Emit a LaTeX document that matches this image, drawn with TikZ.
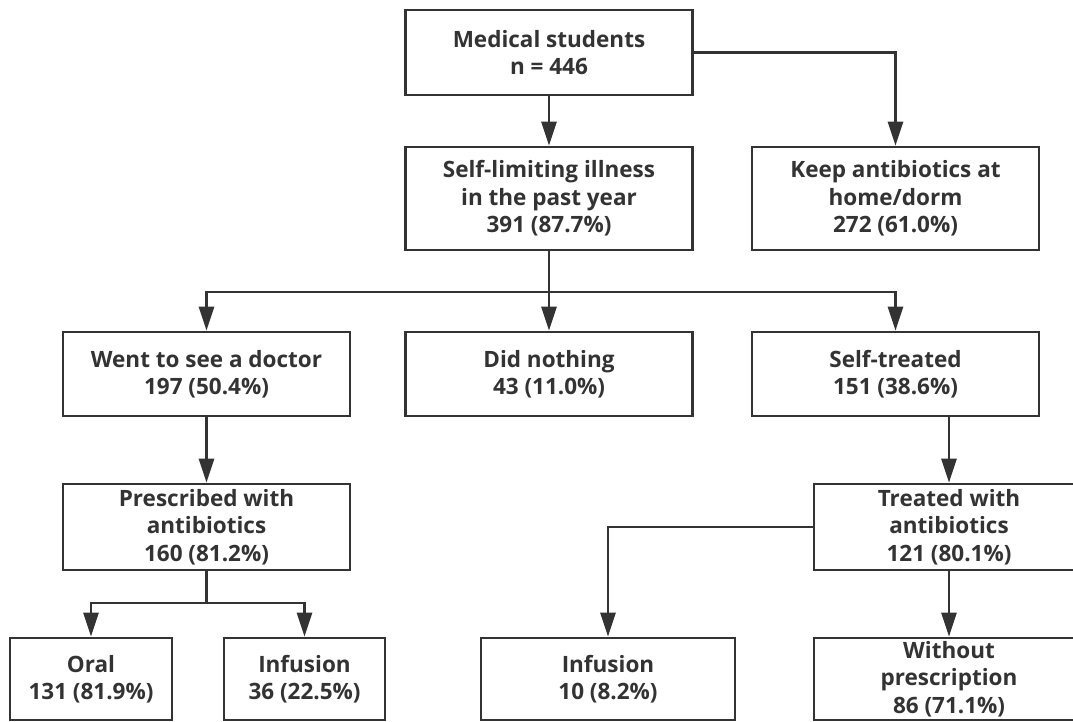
\documentclass[tikz,border=0pt]{standalone}
\usepackage{fontspec}
\setmainfont{Open Sans}
\usetikzlibrary{arrows.meta}
\definecolor{linegray}{HTML}{333333}
\begin{document}
\begin{tikzpicture}
[x = 1pt,
y = -1pt,
box/.style = {draw=linegray, line width=2.6pt, align=center, inner sep=0pt,
  text=linegray, font=\bfseries\fontsize{22.5}{27.5}\selectfont},
arr/.style = {draw=linegray, line width=2.6pt, -{Triangle[length=24pt,width=15pt]}},
link/.style = {draw=linegray, line width=2.6pt}]
\useasboundingbox (0,0) rectangle (1073,722);
\clip (0,0) rectangle (1073,722);

% first rows
\node[box, minimum width=287, minimum height=85] (med) at (549,52.5) {Medical students\\n = 446};
\node[box, minimum width=287, minimum height=103] (ill) at (549,198.5) {Self-limiting illness\\in the past year\\391 (87.7\%)};
\node[box, minimum width=287, minimum height=103] (keep) at (895.5,198.5) {Keep antibiotics at\\home/dorm\\272 (61.0\%)};

\node[box, minimum width=287, minimum height=84] (doc) at (206.5,374) {Went to see a doctor\\197 (50.4\%)};
\node[box, minimum width=287, minimum height=84] (none) at (549,374) {Did nothing\\43 (11.0\%)};
\node[box, minimum width=287, minimum height=84] (self) at (895.5,374) {Self-treated\\151 (38.6\%)};

\node[box, minimum width=287, minimum height=86] (presc) at (206.5,527) {Prescribed with\\antibiotics\\160 (81.2\%)};
\node[box, minimum width=270, minimum height=86] (treat) at (949,527) {Treated with\\antibiotics\\121 (80.1\%)};

% bottom row
\node[box, minimum width=162, minimum height=82] (oral) at (91,679) {Oral\\131 (81.9\%)};
\node[box, minimum width=161, minimum height=82] (infa) at (304.5,679) {Infusion\\36 (22.5\%)};
\node[box, minimum width=254, minimum height=82] (infb) at (608,679) {Infusion\\10 (8.2\%)};
\node[box, minimum width=270, minimum height=82] (wopr) at (949,679) {Without\\prescription\\86 (71.1\%)};

\coordinate (split1) at (549,292);
\coordinate (split2) at (206.5,603);

\draw[arr] (med) -- (ill);
\draw[arr] (med.east) -| (keep.north);
\draw[link] (ill.south) -- (split1);
\draw[arr] (split1) -| (doc.north);
\draw[arr] (split1) -- (none.north);
\draw[arr] (split1) -| (self.north);
\draw[arr] (doc) -- (presc);
\draw[arr] (self.south -| treat.north) -- (treat.north);
\draw[link] (presc.south) -- (split2);
\draw[arr] (split2) -| (oral.north);
\draw[arr] (split2) -| (infa.north);
\draw[arr] (treat.west) -| (infb.north);
\draw[arr] (treat) -- (wopr);
\end{tikzpicture}
\end{document}
